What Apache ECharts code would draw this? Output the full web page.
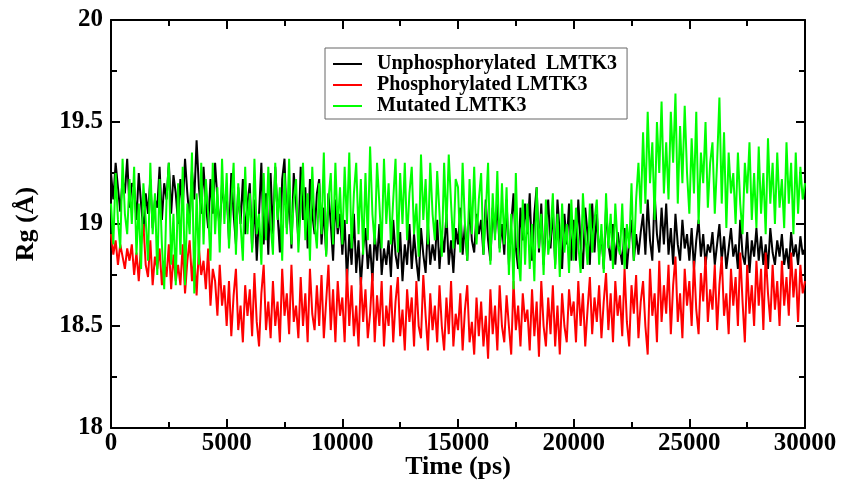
<!DOCTYPE html>
<html>
<head>
<meta charset="utf-8">
<script src="https://cdn.jsdelivr.net/npm/echarts@6/dist/echarts.min.js"></script>
<style>
  html, body { margin: 0; padding: 0; background: #fff; }
  #main { width: 846px; height: 480px; }
</style>
</head>
<body>
<div id="main"></div>
<script>
// Rg (Å) values, one every 100 ps from 0 to 30000 ps (10 per line = 1 ns)
const unphos = [
  19.25, 19.12, 19.3, 19.18, 19.06, 19.22, 19.15, 19.32, 19.08, 19.2,
  19.18, 19.02, 19.25, 19.1, 18.96, 19.15, 19.05, 19.22, 18.98, 19.12,
  19.08, 19.28, 19.02, 19.2, 19.12, 19.3, 19.05, 19.24, 19.15, 19.0,
  19.22, 19.08, 19.32, 19.15, 19.02, 19.26, 19.12, 19.41, 19.18, 19.05,
  19.28, 19.1, 18.98, 19.22, 19.05, 19.3, 19.12, 18.96, 19.2, 19.08,
  19.15, 18.92, 19.25, 19.05, 18.9, 19.18, 19.0, 19.22, 18.95, 19.1,
  19.2, 18.88, 19.12, 18.82, 19.05, 19.3, 18.9, 19.15, 18.85, 19.25,
  18.95, 19.28, 19.05, 18.86, 19.22, 19.32, 18.98, 19.15, 18.88, 19.25,
  19.1, 18.92, 19.28, 19.02, 19.18, 18.88, 19.22, 19.05, 18.95, 19.15,
  19.22, 18.9, 19.08, 18.85, 19.15, 19.0, 18.82, 19.12, 18.95, 19.05,
  18.85, 19.02, 18.72, 18.95, 18.8, 19.05, 18.76, 18.92, 18.7, 18.88,
  18.98, 18.78, 18.9, 18.72, 18.95, 18.82, 19.0, 18.75, 18.88, 18.8,
  18.92, 18.74, 19.02, 18.85, 18.78, 18.96, 18.72, 18.9, 18.8, 19.0,
  18.78, 18.95, 18.82, 18.72, 18.98, 18.85, 18.76, 19.0, 18.8, 18.9,
  18.82, 19.02, 18.78, 18.95, 18.86, 19.05, 18.8, 18.92, 18.76, 18.98,
  18.9, 19.08, 18.85, 19.0, 18.82, 19.1, 18.92, 18.86, 19.05, 18.95,
  19.02, 18.85, 19.12, 18.92, 18.82, 19.08, 18.95, 19.1, 18.88, 19.0,
  18.85, 19.12, 18.8, 19.0, 19.15, 18.88, 18.78, 19.08, 18.92, 19.1,
  18.95, 19.15, 18.82, 19.05, 19.18, 18.86, 19.1, 18.8, 19.0, 19.12,
  18.88, 19.08, 18.8, 19.12, 18.95, 18.78, 19.05, 18.9, 19.1, 18.82,
  19.02, 18.82, 19.12, 18.9, 18.78, 19.08, 18.95, 18.8, 19.1, 18.86,
  19.05, 18.85, 18.95, 18.78, 19.08, 18.9, 18.82, 19.0, 18.8, 18.96,
  18.88, 18.8, 18.98, 18.78, 18.92, 19.02, 18.82, 18.95, 18.85, 18.96,
  19.05, 18.85, 19.12, 18.92, 18.82, 19.15, 18.95, 18.86, 19.08, 18.9,
  19.1, 18.85, 18.98, 18.8, 19.05, 18.9, 18.82, 19.02, 18.88, 18.95,
  18.82, 18.98, 18.78, 18.92, 19.02, 18.84, 18.95, 18.8, 18.9, 18.86,
  18.96, 18.8, 18.9, 19.0, 18.82, 18.94, 18.78, 18.88, 18.98, 18.84,
  18.9, 18.78, 19.02, 18.85, 18.8, 18.96, 18.76, 18.92, 18.84, 18.98,
  18.82, 18.94, 18.8, 18.9, 18.78, 18.98, 18.86, 18.8, 18.92, 18.84,
  18.95, 18.8, 18.88, 18.78, 18.96, 18.84, 18.9, 18.8, 18.94, 18.85,
  18.88
];
const phos = [
  18.95, 18.85, 18.92, 18.8, 18.9, 18.84, 18.78, 18.88, 18.82, 18.9,
  18.75, 18.86, 18.72, 18.9, 19.0, 18.8, 18.74, 18.92, 18.7, 18.84,
  18.78, 18.88, 18.7, 18.82, 18.74, 18.9, 18.68, 18.85, 18.72, 18.8,
  18.7, 18.9, 18.66, 18.82, 18.92, 18.72, 18.85, 18.65, 18.88, 18.75,
  18.82, 18.68, 18.88, 18.6, 18.78, 18.72, 18.55, 18.8, 18.6, 18.7,
  18.5, 18.72, 18.45, 18.65, 18.78, 18.48, 18.6, 18.42, 18.7, 18.55,
  18.68, 18.45, 18.76, 18.52, 18.4, 18.66, 18.8, 18.48, 18.62, 18.44,
  18.72, 18.5, 18.62, 18.42, 18.78, 18.55, 18.66, 18.46, 18.8, 18.52,
  18.6, 18.44, 18.74, 18.5, 18.66, 18.42, 18.78, 18.56, 18.48, 18.7,
  18.5, 18.75, 18.44, 18.62, 18.8, 18.48, 18.68, 18.42, 18.72, 18.55,
  18.64, 18.42, 18.78, 18.5, 18.7, 18.45, 18.6, 18.4, 18.74, 18.52,
  18.68, 18.44, 18.56, 18.76, 18.42, 18.65, 18.5, 18.72, 18.4, 18.6,
  18.5, 18.7, 18.42, 18.62, 18.74, 18.45, 18.58, 18.38, 18.68, 18.52,
  18.64, 18.4, 18.72, 18.5, 18.44, 18.75, 18.55, 18.38, 18.66, 18.48,
  18.6, 18.42, 18.7, 18.5, 18.38, 18.64, 18.46, 18.72, 18.4, 18.56,
  18.48, 18.66, 18.38, 18.58, 18.7, 18.42, 18.52, 18.36, 18.64, 18.45,
  18.62, 18.4, 18.55, 18.34, 18.68, 18.46, 18.6, 18.38, 18.7, 18.5,
  18.42, 18.65, 18.5, 18.36, 18.72, 18.48, 18.6, 18.4, 18.66, 18.52,
  18.58, 18.38, 18.68, 18.45, 18.62, 18.35, 18.72, 18.5, 18.4, 18.64,
  18.46, 18.7, 18.4, 18.6, 18.36, 18.66, 18.5, 18.42, 18.68, 18.55,
  18.62, 18.42, 18.72, 18.5, 18.66, 18.4, 18.58, 18.74, 18.46, 18.64,
  18.52, 18.7, 18.44, 18.62, 18.76, 18.48, 18.66, 18.42, 18.72, 18.55,
  18.65, 18.45, 18.78, 18.52, 18.4, 18.7, 18.56, 18.75, 18.44, 18.62,
  18.72, 18.5, 18.36, 18.78, 18.55, 18.66, 18.42, 18.82, 18.52, 18.7,
  18.56, 18.8, 18.46, 18.7, 18.84, 18.52, 18.66, 18.44, 18.78, 18.6,
  18.72, 18.5, 18.82, 18.58, 18.46, 18.76, 18.62, 18.84, 18.52, 18.68,
  18.58, 18.8, 18.48, 18.7, 18.84, 18.55, 18.66, 18.46, 18.78, 18.6,
  18.74, 18.5, 18.86, 18.62, 18.42, 18.8, 18.56, 18.7, 18.5, 18.82,
  18.6, 18.78, 18.48, 18.86, 18.66, 18.52, 18.8, 18.58, 18.72, 18.5,
  18.82, 18.6, 18.74, 18.55, 18.86, 18.64, 18.78, 18.52, 18.8, 18.66,
  18.72
];
const mutated = [
  19.1, 18.9, 19.25, 19.02, 18.88, 19.32, 19.05, 18.95, 19.22, 19.0,
  19.28, 18.85, 19.1, 18.78, 19.2, 19.02, 18.82, 19.3, 18.95, 19.15,
  18.75, 19.22, 18.9, 18.68, 19.12, 19.3, 18.8, 19.05, 18.7, 19.2,
  18.85, 19.28, 18.7, 19.1, 18.95, 19.35, 18.66, 19.15, 18.8, 19.3,
  18.9, 19.22, 19.05, 18.82, 19.3, 18.95, 19.18, 18.86, 19.32, 19.0,
  19.25, 18.88, 19.1, 19.3, 18.85, 19.2, 19.0, 18.82, 19.28, 18.95,
  19.15, 18.86, 19.32, 18.95, 19.05, 18.8, 19.25, 18.92, 19.28, 19.0,
  18.85, 19.3, 19.02, 19.18, 18.82, 19.25, 18.95, 19.32, 18.9, 19.12,
  19.22, 18.86, 19.08, 19.3, 18.92, 19.15, 18.82, 19.28, 19.0, 18.88,
  19.2, 18.95, 19.35, 18.84, 19.12, 19.25, 18.9, 19.3, 18.98, 19.18,
  18.9, 19.28, 19.0, 19.35, 18.88, 19.15, 19.3, 18.95, 19.22, 18.85,
  19.25, 18.92, 19.38, 19.05, 18.9, 19.3, 19.1, 18.88, 19.32, 19.0,
  19.2, 18.9, 19.12, 19.32, 18.86, 19.25, 19.0, 19.3, 18.92, 19.15,
  19.28, 18.95, 19.1, 18.84, 19.34, 19.02, 19.22, 18.9, 19.3, 19.05,
  18.92, 19.26, 19.05, 18.84, 19.3, 18.98, 19.34, 19.1, 18.88, 19.22,
  19.18, 18.86, 19.3, 19.0, 18.82, 19.22, 18.95, 19.28, 18.9, 19.12,
  19.25, 18.85, 19.05, 19.3, 18.8, 19.15, 18.92, 19.26, 18.86, 19.2,
  18.9, 19.18, 18.75, 19.05, 18.68, 19.25, 18.85, 18.72, 19.12, 18.8,
  19.1, 18.78, 19.0, 18.72, 19.18, 18.88, 19.05, 18.75, 19.12, 18.85,
  18.95, 19.15, 18.78, 19.05, 18.74, 19.1, 18.86, 19.0, 18.76, 19.12,
  18.82, 19.08, 18.9, 18.76, 19.15, 18.95, 18.8, 19.1, 18.86, 19.02,
  19.12, 18.8, 19.0, 18.76, 19.15, 18.88, 19.05, 18.78, 19.1, 18.9,
  18.85, 19.1, 18.78, 19.0, 18.88, 19.2, 18.82, 19.12, 19.3, 19.05,
  19.45, 19.1, 19.55, 19.2, 19.4, 19.02, 19.5, 19.25, 19.6, 19.15,
  19.4, 19.12, 19.55, 19.3, 19.64, 19.1, 19.48, 19.2, 19.58, 19.25,
  19.05, 19.42, 19.15, 19.55, 19.0, 19.35, 19.2, 19.5, 19.08, 19.3,
  19.4, 19.05, 19.3, 19.62, 19.1, 19.45, 18.98, 19.35, 19.15, 19.25,
  19.0, 19.35, 19.1, 18.95, 19.3, 19.15, 19.4, 19.02, 19.25, 18.98,
  19.38, 19.05, 19.25, 18.95, 19.42, 19.1, 19.3, 19.0, 19.35, 19.08,
  19.22, 18.98, 19.4, 19.1, 19.3, 18.95, 19.35, 19.05, 19.28, 19.12,
  19.2
];
const seriesNames = ['Unphosphorylated  LMTK3', 'Phosphorylated LMTK3', 'Mutated LMTK3'];
const seriesColors = ['#000000', '#ff0000', '#00ff00'];
const tEnd = 30000;

function toPairs(vals) {
  return vals.map((v, i) => [i * tEnd / (vals.length - 1), v]);
}

const font = '"Liberation Serif", "Times New Roman", serif';

function xAx(pos, labels) {
  return {
    type: 'value', position: pos, min: 0, max: 30000, interval: 5000,
    axisLine: { show: true, onZero: false, lineStyle: { color: '#000', width: 2 } },
    axisTick: { show: true, inside: true, length: 9, lineStyle: { color: '#000', width: 2 } },
    minorTick: { show: true, splitNumber: 2, length: 6, lineStyle: { color: '#000', width: 2 } },
    splitLine: { show: false },
    axisLabel: {
      show: labels, color: '#000', fontFamily: font, fontWeight: 'bold', fontSize: 25, margin: 3,
      formatter: v => String(v)
    },
    name: labels ? 'Time (ps)' : '', nameLocation: 'middle', nameGap: 26, nameMoveOverlap: false,
    nameTextStyle: { color: '#000', fontFamily: font, fontWeight: 'bold', fontSize: 26 }
  };
}
function yAx(pos, labels) {
  return {
    type: 'value', position: pos, min: 18, max: 20, interval: 0.5,
    axisLine: { show: true, onZero: false, lineStyle: { color: '#000', width: 2 } },
    axisTick: { show: true, inside: true, length: 9, lineStyle: { color: '#000', width: 2 } },
    minorTick: { show: true, splitNumber: 2, length: 6, lineStyle: { color: '#000', width: 2 } },
    splitLine: { show: false },
    axisLabel: {
      show: labels, color: '#000', fontFamily: font, fontWeight: 'bold', fontSize: 25, margin: 8,
      formatter: v => String(v)
    },
    name: labels ? 'Rg (Å)' : '', nameLocation: 'middle', nameGap: 72, nameRotate: 90,
    nameMoveOverlap: false,
    nameTextStyle: { color: '#000', fontFamily: font, fontWeight: 'bold', fontSize: 26 }
  };
}

const option = {
  animation: false,
  backgroundColor: '#fff',
  grid: { left: 111, right: 41, top: 20, bottom: 52, outerBoundsMode: 'none' },
  legend: {
    left: 325, top: 48, orient: 'vertical',
    data: seriesNames, itemWidth: 29, itemHeight: 2, itemGap: 1,
    icon: 'rect', padding: [6, 10, 3, 8],
    borderColor: '#666', borderWidth: 1,
    textStyle: {
      color: '#000', fontFamily: font, fontWeight: 'bold', fontSize: 20, lineHeight: 18,
      padding: [0, 0, 0, 10]
    }
  },
  xAxis: [xAx('bottom', true), xAx('top', false)],
  yAxis: [yAx('left', true), yAx('right', false)],
  series: [unphos, phos, mutated].map((vals, k) => ({
    name: seriesNames[k], type: 'line', data: toPairs(vals),
    showSymbol: false, symbol: 'none',
    lineStyle: { color: seriesColors[k], width: 2 },
    itemStyle: { color: seriesColors[k] }
  }))
};

echarts.init(document.getElementById('main')).setOption(option);
</script>
</body>
</html>
